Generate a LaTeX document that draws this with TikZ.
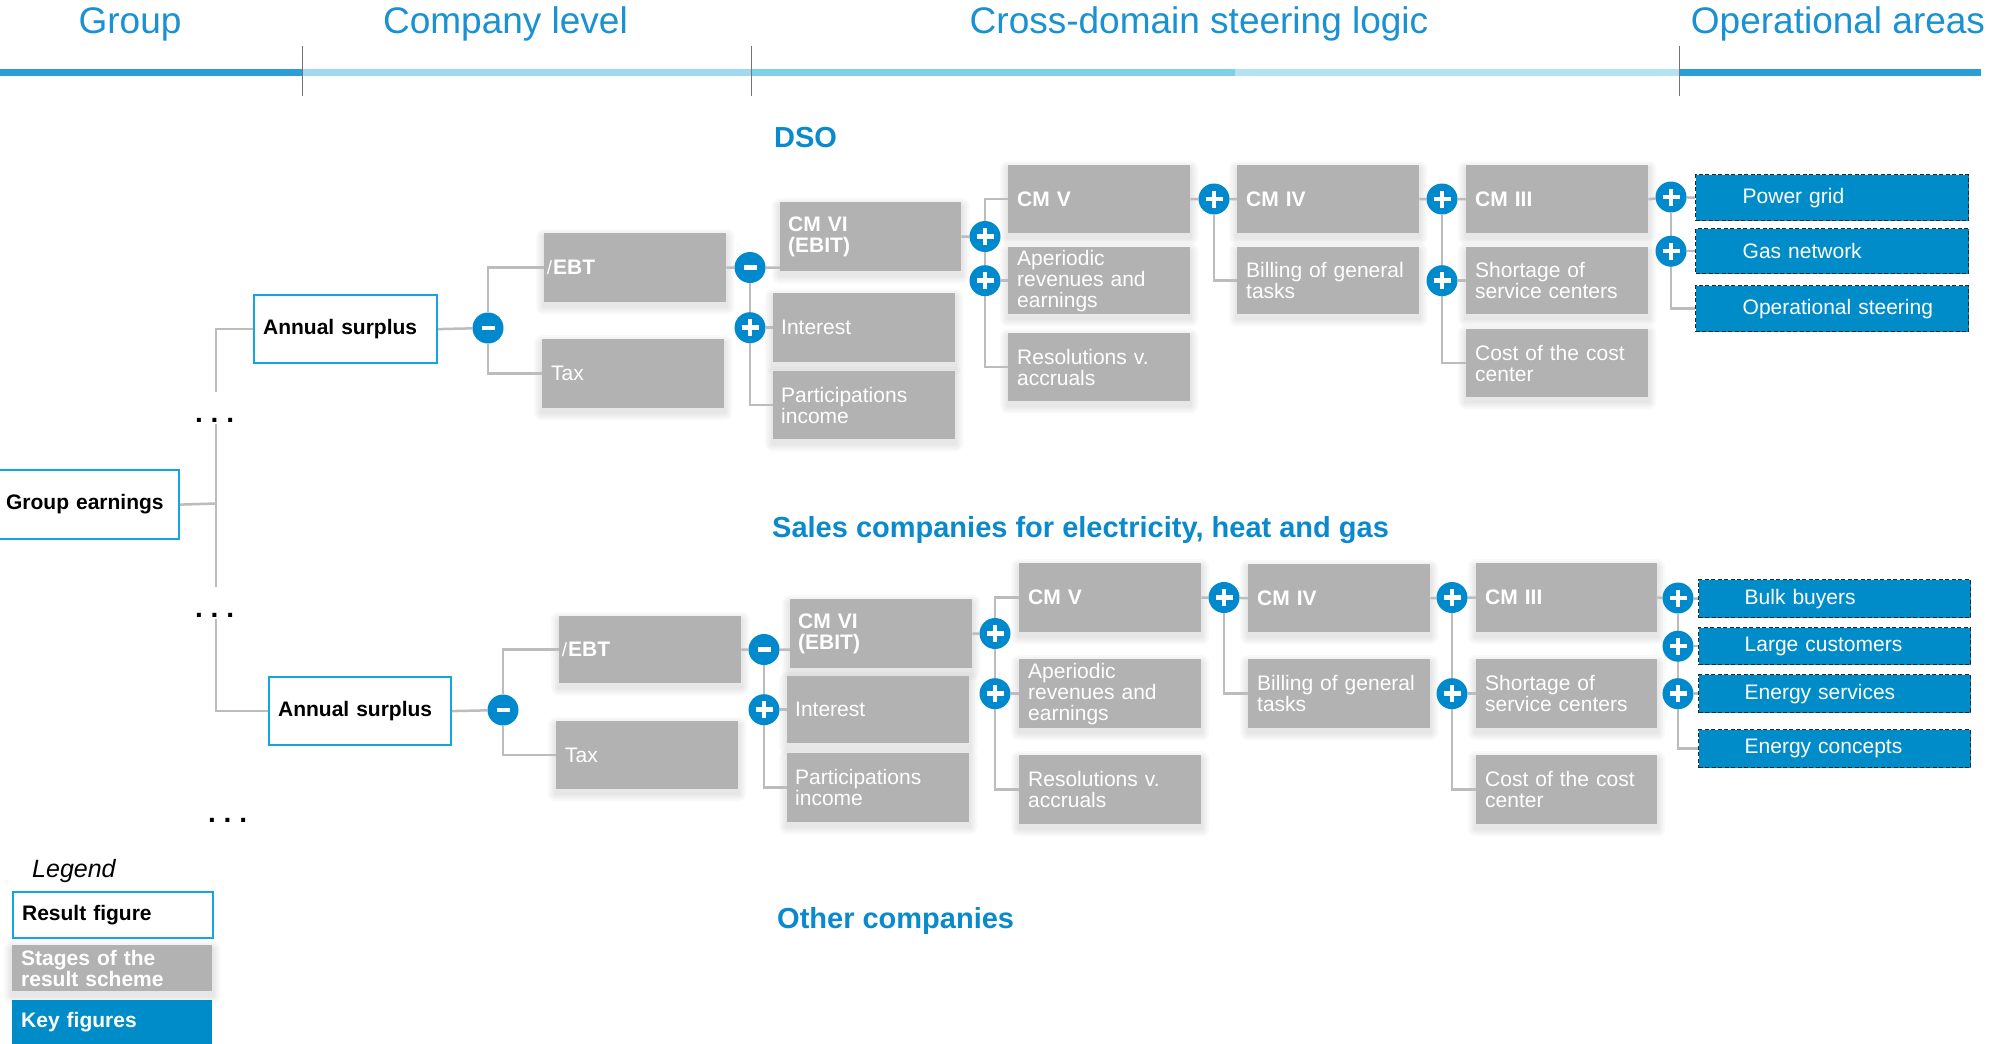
\documentclass[tikz,border=0pt]{standalone}
\usepackage{fontspec}
\setmainfont{Liberation Sans}
\pgfdeclarelayer{bg}
\pgfsetlayers{bg,main}
\definecolor{opblue}{RGB}{0,137,204}
\definecolor{keyblue}{RGB}{0,140,201}
\definecolor{resblue}{RGB}{20,165,220}
\definecolor{headblue}{RGB}{25,145,210}
\definecolor{secblue}{RGB}{10,138,204}
\definecolor{boxgray}{RGB}{178,178,178}
\definecolor{lgray}{RGB}{188,188,188}
\definecolor{barA}{RGB}{42,159,214}
\definecolor{barB}{RGB}{160,216,239}
\definecolor{barC}{RGB}{125,207,234}
\definecolor{barD}{RGB}{179,227,243}
\newcommand\fsz[1]{\fontsize{#1}{#1}\selectfont}
\newcommand\bx[8][]{%
  \pgfmathsetmacro\bxw{#5-#3}%
  \pgfmathsetmacro\bxh{#6-#4}%
  \pgfmathsetmacro\bxt{#5-#3-2*#7}%
  \node[#1, anchor=north west, inner xsep=#7pt, minimum width=\bxw pt,
        minimum height=\bxh pt, text width=\bxt pt] (#2) at (#3,#4) {#8};}
\tikzset{
  conn/.style={draw=lgray, line width=2.5pt},
  gbox/.style={fill=boxgray, inner ysep=1pt, align=left, text=white, font=\fsz{21}},
  gboxb/.style={gbox, font=\bfseries\fsz{21}},
  rbox/.style={draw=resblue, line width=2.2pt, fill=white, inner ysep=1pt,
    align=left, font=\bfseries\fsz{21}},
  kbox/.style={fill=keyblue, draw=black!85, dash pattern=on 4pt off 2.5pt,
    line width=1.4pt, inner ysep=1pt, align=left, text=white, font=\fsz{21}},
  softshade/.style={fill=black, opacity=0.022},
  opplus/.style={circle, fill=opblue, minimum size=31pt, inner sep=0pt,
    path picture={\draw[white, line width=4.5pt]
      ([xshift=-8.5pt]path picture bounding box.center) -- ([xshift=8.5pt]path picture bounding box.center)
      ([yshift=-8.5pt]path picture bounding box.center) -- ([yshift=8.5pt]path picture bounding box.center);}},
  opminus/.style={circle, fill=opblue, minimum size=31pt, inner sep=0pt,
    path picture={\draw[white, line width=4.8pt]
      ([xshift=-6.5pt]path picture bounding box.center) -- ([xshift=6.5pt]path picture bounding box.center);}},
  headtxt/.style={font=\fsz{37}, text=headblue, inner sep=0pt, anchor=base},
  sectxt/.style={font=\bfseries\fsz{29}, text=secblue, inner sep=0pt, anchor=base west},
  dotstxt/.style={font=\bfseries\fsz{28}\frenchspacing, fill=white, inner sep=0pt,
    text height=30pt, text depth=2pt, anchor=base west},
  divider/.style={draw=black!55, line width=0.8pt}
}
\begin{document}
\begin{tikzpicture}[x=1pt,y=-1pt]
\useasboundingbox (0,0) rectangle (1989,1044);
\begin{pgfonlayer}{bg}
\fill[white] (0,0) rectangle (1989,1044);
\end{pgfonlayer}
% header
\fill[barA] (0,68.5) rectangle (302,75.5);
\fill[barB] (302,68.5) rectangle (751,75.5);
\fill[barC] (751,68.5) rectangle (1235,75.5);
\fill[barD] (1235,68.5) rectangle (1679,75.5);
\fill[barA] (1679,68.5) rectangle (1981,75.5);
\draw[divider] (302,46) -- (302,96);
\draw[divider] (751,46) -- (751,96);
\draw[divider] (1679,46) -- (1679,96);
\node[headtxt] (hgroup) at (130,33) {Group};
\node[headtxt] (hcomp) at (505.5,33) {Company level};
\node[headtxt] (hcross) at (1199,33) {Cross-domain steering logic};
\node[headtxt] (hops) at (1838,33) {Operational areas};
% section titles
\node[sectxt] (tdso) at (774,147) {DSO};
\node[sectxt] (tsales) at (772,537) {Sales companies for electricity, heat and gas};
\node[sectxt] (tother) at (777,928) {Other companies};
% group
\bx[rbox]{ge}{-3}{469}{178}{538}{8}{Group earnings}
\coordinate (gt) at (216,503.5);
% ---------------- DSO tree
\bx[rbox]{as1}{253}{294}{436}{362}{9}{Annual surplus}
\bx[gboxb]{ebt1}{544}{233}{726}{302}{9}{\llap{{\mdseries\fsz{19}/}\kern1pt}EBT}
\bx[gbox]{tax1}{542}{339}{724}{408}{9}{Tax}
\bx[gboxb]{cmvi1}{780}{202}{961}{271}{8}{CM VI\\(EBIT)}
\bx[gbox]{int1}{773}{293}{955}{362}{8}{Interest}
\bx[gbox]{part1}{773}{371}{955}{439}{8}{Participations\\income}
\bx[gboxb]{cmv1}{1008}{165}{1190}{233}{9}{CM V}
\bx[gbox]{ape1}{1008}{247}{1190}{314}{9}{Aperiodic\\revenues and\\earnings}
\bx[gbox]{res1}{1008}{333}{1190}{401}{9}{Resolutions v.\\accruals}
\bx[gboxb]{cmiv1}{1237}{165}{1419}{233}{9}{CM IV}
\bx[gbox]{bill1}{1237}{247}{1419}{314}{9}{Billing of general\\tasks}
\bx[gboxb]{cmiii1}{1466}{165}{1648}{233}{9}{CM III}
\bx[gbox]{short1}{1466}{247}{1648}{314}{9}{Shortage of\\service centers}
\bx[gbox]{cost1}{1466}{329}{1648}{397}{9}{Cost of the cost\\center}
\bx[kbox]{pg}{1695}{174}{1968}{220}{20}{\hspace*{27pt}Power grid}
\bx[kbox]{gas}{1695}{228}{1968}{273}{20}{\hspace*{27pt}Gas network}
\bx[kbox]{opst}{1695}{285}{1968}{331}{20}{\hspace*{27pt}Operational steering}
\node[opminus] (ma1) at (488,328) {};
\node[opminus] (mb1) at (750,267.5) {};
\node[opplus] (pb1) at (mb1 |- int1.west) {};
\node[opplus] (pc1) at (985,236.5) {};
\node[opplus] (pc1b) at (pc1 |- ape1.west) {};
\node[opplus] (pd1) at (1214,199) {};
\node[opplus] (pe1) at (1442,199) {};
\node[opplus] (pe1b) at (pe1 |- short1.west) {};
\node[opplus] (pf1) at (1671,197) {};
\node[opplus] (pf1b) at (pf1 |- gas.west) {};
% ---------------- Sales tree
\bx[rbox]{as2}{268}{676}{450}{744}{9}{Annual surplus}
\bx[gboxb]{ebt2}{559}{616}{741}{683}{9}{\llap{{\mdseries\fsz{19}/}\kern1pt}EBT}
\bx[gbox]{tax2}{556}{721}{738}{789}{9}{Tax}
\bx[gboxb]{cmvi2}{790}{599}{972}{668}{8}{CM VI\\(EBIT)}
\bx[gbox]{int2}{787}{676}{969}{743}{8}{Interest}
\bx[gbox]{part2}{787}{753}{969}{822}{8}{Participations\\income}
\bx[gboxb]{cmv2}{1019}{563}{1201}{632}{9}{CM V}
\bx[gbox]{ape2}{1019}{659}{1201}{728}{9}{Aperiodic\\revenues and\\earnings}
\bx[gbox]{res2}{1019}{755}{1201}{824}{9}{Resolutions v.\\accruals}
\bx[gboxb]{cmiv2}{1248}{564}{1430}{632}{9}{CM IV}
\bx[gbox]{bill2}{1248}{659}{1430}{728}{9}{Billing of general\\tasks}
\bx[gboxb]{cmiii2}{1476}{563}{1657}{632}{9}{CM III}
\bx[gbox]{short2}{1476}{659}{1657}{728}{9}{Shortage of\\service centers}
\bx[gbox]{cost2}{1476}{755}{1657}{824}{9}{Cost of the cost\\center}
\bx[kbox]{bb}{1698}{579}{1970}{617}{20}{\hspace*{26pt}Bulk buyers}
\bx[kbox]{lc}{1698}{627}{1970}{664}{20}{\hspace*{26pt}Large customers}
\bx[kbox]{es}{1698}{674}{1970}{712}{20}{\hspace*{26pt}Energy services}
\bx[kbox]{ec}{1698}{729}{1970}{767}{20}{\hspace*{26pt}Energy concepts}
\node[opminus] (ma2) at (503,710) {};
\node[opminus] (mb2) at (764,649.5) {};
\node[opplus] (pb2) at (mb2 |- int2.west) {};
\node[opplus] (pc2) at (995,633.5) {};
\node[opplus] (pc2b) at (pc2 |- ape2.west) {};
\node[opplus] (pd2) at (1224,597.5) {};
\node[opplus] (pe2) at (1452,597.5) {};
\node[opplus] (pe2b) at (pe2 |- short2.west) {};
\node[opplus] (pf2) at (1678,598) {};
\node[opplus] (pf2b) at (pf2 |- lc.west) {};
\node[opplus] (pf2c) at (pf2 |- es.west) {};
% dots
\node[dotstxt] (dots1) at (195,422) {. . .};
\node[dotstxt] (dots2) at (195,617) {. . .};
\node[dotstxt] (dots3) at (208,822) {. . .};
% legend
\node[font=\itshape\fsz{25}, inner sep=0pt, anchor=base west] (leg) at (32,877) {Legend};
\bx[rbox]{lres}{12}{891}{212}{937}{9}{Result figure}
\bx[gboxb]{lstg}{12}{945}{212}{991}{9}{\fontsize{21}{20}\selectfont Stages of the\\result scheme}
\bx[gboxb, fill=keyblue]{lkey}{12}{1000}{212}{1044}{9}{Key figures}
% shadows and connectors
\begin{pgfonlayer}{bg}
\foreach \n in {ebt1,tax1,cmvi1,int1,part1,cmv1,ape1,res1,cmiv1,bill1,cmiii1,short1,cost1,
                ebt2,tax2,cmvi2,int2,part2,cmv2,ape2,res2,cmiv2,bill2,cmiii2,short2,cost2,lstg}{
  \foreach \s in {2,4,6,8}{
    \fill[softshade, rounded corners=\s pt]
      ([xshift=-\s pt, yshift=-4pt-\s pt]\n.south west) rectangle ([xshift=\s pt, yshift=\s pt-4pt]\n.north east);
  }
}
\draw[conn] (ge.east) -- (gt);
\draw[conn] (as1.west) -| (gt) |- (as2.west);
% DSO
\draw[conn] (as1.east) -- (ma1);
\draw[conn] (ebt1.west) -| (ma1) |- (tax1.west);
\draw[conn] (ebt1.east) -- (mb1) -- (mb1 -| cmvi1.west);
\draw[conn] (mb1) |- (part1.west);
\draw[conn] (pb1) -- (int1.west);
\draw[conn] (cmvi1.east) -- (pc1);
\draw[conn] (cmv1.west) -| (pc1) |- (res1.west);
\draw[conn] (pc1b) -- (ape1.west);
\draw[conn] (cmv1.east) -- (pd1) -- (cmiv1.west);
\draw[conn] (pd1) |- (bill1.west);
\draw[conn] (cmiv1.east) -- (pe1) -- (cmiii1.west);
\draw[conn] (pe1) |- (cost1.west);
\draw[conn] (pe1b) -- (short1.west);
\draw[conn] (cmiii1.east) -- (pf1) -- (pg.west);
\draw[conn] (pf1) |- (opst.west);
\draw[conn] (pf1b) -- (gas.west);
% Sales
\draw[conn] (as2.east) -- (ma2);
\draw[conn] (ebt2.west) -| (ma2) |- (tax2.west);
\draw[conn] (ebt2.east) -- (mb2) -- (mb2 -| cmvi2.west);
\draw[conn] (mb2) |- (part2.west);
\draw[conn] (pb2) -- (int2.west);
\draw[conn] (cmvi2.east) -- (pc2);
\draw[conn] (cmv2.west) -| (pc2) |- (res2.west);
\draw[conn] (pc2b) -- (ape2.west);
\draw[conn] (cmv2.east) -- (pd2) -- (cmiv2.west);
\draw[conn] (pd2) |- (bill2.west);
\draw[conn] (cmiv2.east) -- (pe2) -- (cmiii2.west);
\draw[conn] (pe2) |- (cost2.west);
\draw[conn] (pe2b) -- (short2.west);
\draw[conn] (cmiii2.east) -- (pf2) -- (bb.west);
\draw[conn] (pf2) |- (ec.west);
\draw[conn] (pf2b) -- (lc.west);
\draw[conn] (pf2c) -- (es.west);
\end{pgfonlayer}
\end{tikzpicture}
\end{document}
